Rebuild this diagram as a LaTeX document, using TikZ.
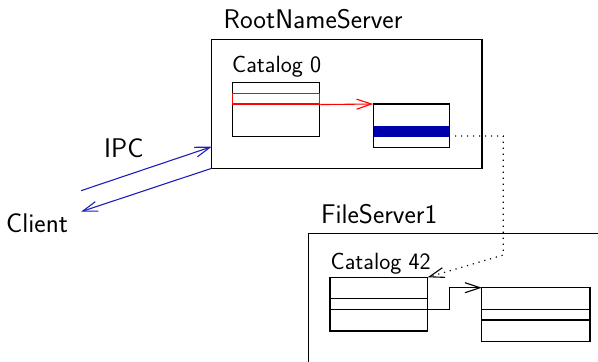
\documentclass[tikz,border=0pt]{standalone}
\usetikzlibrary{arrows.meta}
\definecolor{bandblue}{RGB}{0,0,170}
\definecolor{ipcblue}{RGB}{30,30,190}
\tikzset{
  box/.style={draw=black, line width=1.1pt, rectangle, inner sep=0pt, outer sep=0pt},
  bigtxt/.style={inner sep=0pt, anchor=base west, font=\sffamily\fontsize{27}{30}\selectfont},
  cattxt/.style={inner sep=0pt, anchor=base west, font=\sffamily\fontsize{23.5}{26}\selectfont},
  openarrow/.style={-{Straight Barb[length=15pt,width=10pt,line width=1.1pt]}},
  conn/.style={line width=1.1pt},
  dotline/.style={line width=1.2pt, dash pattern=on 1.2pt off 4.8pt}
}
\begin{document}
\begin{tikzpicture}[x=1pt,y=-1pt]
\useasboundingbox (0,0) rectangle (598,362);
\clip (0,0) rectangle (598,362);
% outer boxes
\node[box, minimum width=270.3pt, minimum height=129pt] (rns) at (346.85,103.8) {};
\node[bigtxt] (rnsl) at (223.5,28.3) {RootNameServer};
\node[box, minimum width=340pt, minimum height=200pt] (fs) at (478.3,333.3) {};
\node[bigtxt] (fsl) at (321,223.3) {FileServer1};
% Catalog 0
\node[cattxt] (c0l) at (232,72.3) {Catalog 0};
\node[box, minimum width=87pt, minimum height=54.4pt] (cat0) at (276.2,109.5) {};
\node[draw=red, line width=1.1pt, rectangle, inner sep=0pt, minimum width=87pt, minimum height=10.7pt] (row0) at (276.2,98.65) {};
% target small box
\fill[bandblue] (373.3,126) rectangle (449.3,136.7);
\node[box, minimum width=76pt, minimum height=43.3pt] (tgt) at (411.3,125.65) {};
% Catalog 42
\node[cattxt] (c42l) at (330.5,269) {Catalog 42};
\node[box, minimum width=97.7pt, minimum height=53.7pt] (cat42) at (378.85,304.15) {};
\draw[line width=1.1pt] (330,298.3) -- (427.7,298.3) (330,309.3) -- (427.7,309.3);
\node[box, minimum width=108.3pt, minimum height=54pt] (rbox) at (535.85,314.7) {};
\draw[line width=1.1pt] (481.7,309.3) -- (590,309.3) (481.7,320) -- (590,320);
% connectors
\draw[conn, red, openarrow] (row0.south east) -- (tgt.north west);
\coordinate (dS) at (455,136);
\coordinate (dA) at (503.3,136);
\coordinate (dB) at (503.3,255);
\draw[dotline, openarrow] (dS) -- (dA) -- (dB) -- (cat42.north east);
\coordinate (j1) at (449.3,309.3);
\draw[conn, openarrow] (cat42.east |- j1) -- (j1) |- (rbox.north west);
% IPC
\coordinate (cl1) at (81,190.7);
\coordinate (cl2) at (81,211.7);
\draw[conn, ipcblue, openarrow] (cl1) -- (rns.west |- 0,146.7);
\draw[conn, ipcblue, openarrow] (rns.south west) -- (cl2);
\node[bigtxt] (ipc) at (104,157.7) {IPC};
\node[bigtxt] (client) at (6,232.7) {Client};
\end{tikzpicture}
\end{document}
